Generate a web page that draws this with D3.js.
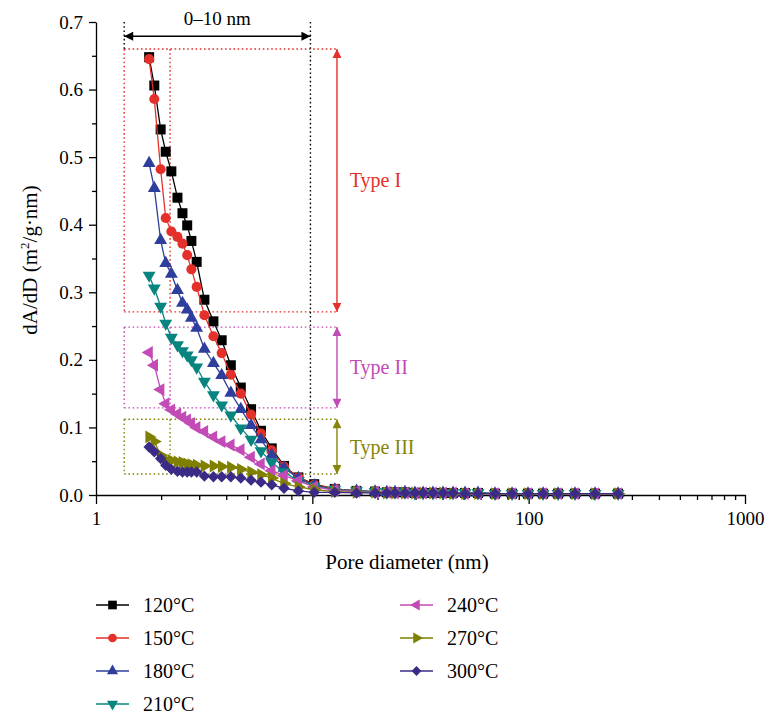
<!DOCTYPE html>
<html lang="en">
  <head>
    <meta charset="UTF-8" />
    <title>Pore size distribution</title>
    <script src="https://d3js.org/d3.v7.min.js"></script>
    <style>
      body {
        margin: 0;
        background: #fff;
      }
      svg {
        display: block;
        font-family: "Liberation Serif", "DejaVu Serif", serif;
      }
      .axis path,
      .axis line {
        stroke: #000;
        stroke-width: 1.3;
      }
      .axis text {
        font-size: 19px;
        font-family: "Liberation Serif", serif;
        fill: #000;
      }
    </style>
  </head>
  <body>
    <svg width="768" height="715"></svg>

    <script>
      // pore diameters (nm), shared by all samples
      const diameters = [
        1.76, 1.86, 1.99, 2.1, 2.23, 2.38, 2.51, 2.64, 2.76, 2.92, 3.17, 3.49,
        3.81, 4.2, 4.67, 5.21, 5.79, 6.49, 7.4, 8.62, 10.2, 12.7, 16.0, 19.5,
        22.1, 24.1, 26.8, 29.8, 32.5, 36.1, 40.2, 44.7, 50.8, 58.3, 69.9, 83.8,
        99.3, 116.6, 136.7, 163.8, 202.6, 259,
      ];

      const temps = ["120°C", "150°C", "180°C", "210°C", "240°C", "270°C", "300°C"];

      // dA/dD (m2/g.nm)
      const s120 = [
        0.648, 0.606, 0.541, 0.508, 0.479, 0.44, 0.417, 0.399, 0.376, 0.345,
        0.289, 0.257, 0.229, 0.192, 0.159, 0.127, 0.095, 0.069, 0.043, 0.026,
        0.016, 0.009, 0.006, 0.005, 0.004, 0.004, 0.004, 0.003, 0.003, 0.003,
        0.003, 0.003, 0.003, 0.003, 0.002, 0.002, 0.002, 0.002, 0.002, 0.002,
        0.002, 0.002,
      ];
      const s150 = [
        0.645, 0.586, 0.482, 0.41, 0.39, 0.382, 0.372, 0.355, 0.334, 0.308,
        0.266, 0.235, 0.21, 0.178, 0.15, 0.119, 0.091, 0.066, 0.042, 0.026,
        0.015, 0.009, 0.006, 0.005, 0.004, 0.004, 0.003, 0.003, 0.003, 0.003,
        0.003, 0.003, 0.003, 0.002, 0.002, 0.002, 0.002, 0.002, 0.002, 0.002,
        0.002, 0.002,
      ];
      const s180 = [
        0.491, 0.454, 0.377, 0.343, 0.327, 0.303, 0.284, 0.274, 0.262, 0.247,
        0.216, 0.195, 0.177, 0.151, 0.127, 0.103, 0.082, 0.059, 0.04, 0.025,
        0.014, 0.008, 0.006, 0.005, 0.004, 0.004, 0.004, 0.003, 0.003, 0.003,
        0.003, 0.003, 0.003, 0.003, 0.002, 0.002, 0.002, 0.002, 0.002, 0.002,
        0.002, 0.002,
      ];
      const s210 = [
        0.325, 0.306, 0.279, 0.254, 0.233, 0.222, 0.213, 0.207, 0.2, 0.189,
        0.168, 0.148, 0.133, 0.118, 0.099, 0.082, 0.065, 0.048, 0.034, 0.021,
        0.013, 0.008, 0.006, 0.005, 0.004, 0.004, 0.004, 0.003, 0.003, 0.003,
        0.003, 0.003, 0.003, 0.003, 0.002, 0.002, 0.002, 0.002, 0.002, 0.002,
        0.002, 0.002,
      ];
      const s240 = [
        0.211, 0.192, 0.156, 0.135, 0.126, 0.12, 0.115, 0.111, 0.106, 0.1,
        0.094, 0.086, 0.079, 0.074, 0.067, 0.056, 0.046, 0.036, 0.029, 0.021,
        0.012, 0.007, 0.005, 0.004, 0.004, 0.003, 0.003, 0.003, 0.003, 0.003,
        0.003, 0.003, 0.002, 0.002, 0.002, 0.002, 0.002, 0.002, 0.002, 0.002,
        0.002, 0.002,
      ];
      const s270 = [
        0.086, 0.079, 0.059, 0.052, 0.051, 0.049, 0.048, 0.046, 0.045, 0.044,
        0.043, 0.043, 0.042, 0.041, 0.038, 0.034, 0.03, 0.025, 0.017, 0.012,
        0.008, 0.005, 0.004, 0.004, 0.003, 0.003, 0.003, 0.003, 0.003, 0.003,
        0.003, 0.002, 0.002, 0.002, 0.002, 0.002, 0.002, 0.002, 0.002, 0.002,
        0.002, 0.002,
      ];
      const s300 = [
        0.071, 0.064, 0.054, 0.044, 0.038, 0.035, 0.034, 0.034, 0.034, 0.034,
        0.028, 0.027, 0.027, 0.027, 0.025, 0.022, 0.019, 0.015, 0.01, 0.006,
        0.004, 0.004, 0.003, 0.003, 0.003, 0.003, 0.003, 0.003, 0.003, 0.003,
        0.003, 0.003, 0.002, 0.002, 0.002, 0.002, 0.002, 0.002, 0.002, 0.002,
        0.002, 0.002,
      ];

      const xTicks = [1, 10, 100, 1000];
      const yTicks = [0, 0.1, 0.2, 0.3, 0.4, 0.5, 0.6, 0.7];

      // region bands (dA/dD): top, bottom
      const bandNames = ["Type I", "Type II", "Type III"];
      const bandTops = [0.66, 0.2485, 0.112];
      const bandBottoms = [0.271, 0.129, 0.031];

      const colors = ["#000000", "#e3302a", "#2e3e9c", "#08847f", "#c24bb6", "#7f7f00", "#3b2a86"];
      const bandColors = ["#e3302a", "#c24bb6", "#85850a"];

      const series = [s120, s150, s180, s210, s240, s270, s300].map((vals, i) => ({
        name: temps[i],
        color: colors[i],
        points: diameters.map((d, j) => ({ d: d, v: vals[j] })),
      }));

      const markers = [
        { type: d3.symbolSquare, size: 100, rot: 0 },
        { type: d3.symbolCircle, size: 80, rot: 0 },
        { type: d3.symbolTriangle, size: 72, rot: 0 },
        { type: d3.symbolTriangle, size: 72, rot: 180 },
        { type: d3.symbolTriangle, size: 72, rot: -90 },
        { type: d3.symbolTriangle, size: 72, rot: 90 },
        { type: d3.symbolSquare, size: 64, rot: 45 },
      ];

      const svg = d3.select("svg");

      const x = d3.scaleLog().domain([1, 1000]).range([96, 745]);
      const y = d3.scaleLinear().domain([0, 0.7]).range([495, 22]);

      // minor ticks
      const xMinor = [];
      [1, 10, 100].forEach((dec) => {
        for (let k = 2; k <= 9; k++) xMinor.push(dec * k);
      });
      const yMinor = d3.range(0.05, 0.7, 0.1);

      svg
        .append("g")
        .attr("class", "axis")
        .attr("transform", "translate(0,495)")
        .call(d3.axisBottom(x).tickValues(xMinor).tickSize(5).tickFormat(""))
        .call((g) => g.select(".domain").remove());
      svg
        .append("g")
        .attr("class", "axis")
        .attr("transform", "translate(0,495)")
        .call(
          d3.axisBottom(x).tickValues(xTicks).tickSize(9).tickSizeOuter(0).tickPadding(8).tickFormat(d3.format("d"))
        );

      svg
        .append("g")
        .attr("class", "axis")
        .attr("transform", "translate(96,0)")
        .call(d3.axisLeft(y).tickValues(yMinor).tickSize(4).tickFormat(""))
        .call((g) => g.select(".domain").remove());
      svg
        .append("g")
        .attr("class", "axis")
        .attr("transform", "translate(96,0)")
        .call(
          d3.axisLeft(y).tickValues(yTicks).tickSize(7).tickSizeOuter(0).tickPadding(6).tickFormat(d3.format(".1f"))
        );

      // axis titles
      svg
        .append("text")
        .attr("x", 407)
        .attr("y", 569)
        .attr("text-anchor", "middle")
        .attr("font-size", 21)
        .text("Pore diameter (nm)");

      const yTitle = svg
        .append("text")
        .attr("transform", "translate(37,260) rotate(-90)")
        .attr("text-anchor", "middle")
        .attr("font-size", 21);
      yTitle.append("tspan").text("dA/dD (m");
      yTitle.append("tspan").attr("font-size", 13).attr("dy", -8).text("2");
      yTitle.append("tspan").attr("dy", 8).text("/g·nm)");

      // annotations
      const defs = svg.append("defs");
      function arrowHead(id, color) {
        defs
          .append("marker")
          .attr("id", id)
          .attr("viewBox", "0 0 10 10")
          .attr("refX", 10)
          .attr("refY", 5)
          .attr("markerWidth", 14)
          .attr("markerHeight", 9)
          .attr("markerUnits", "userSpaceOnUse")
          .attr("orient", "auto-start-reverse")
          .append("path")
          .attr("d", "M0,0 L10,5 L0,10 Z")
          .attr("fill", color);
      }
      arrowHead("ah-black", "#000");
      bandColors.forEach((c, i) => arrowHead("ah-" + i, c));

      const xLeft = 1.35,
        xInner = 2.2,
        xTen = 9.8,
        xArrow = 13.0,
        xLabel = 14.9;

      const ann = svg.append("g").attr("fill", "none");
      const dots = "1.6,2.6";

      bandNames.forEach((name, i) => {
        const c = bandColors[i];
        const t = y(bandTops[i]),
          b = y(bandBottoms[i]);
        [t, b].forEach((yy) =>
          ann
            .append("line")
            .attr("x1", x(xLeft))
            .attr("x2", x(xArrow))
            .attr("y1", yy)
            .attr("y2", yy)
            .attr("stroke", c)
            .attr("stroke-width", 1.4)
            .attr("stroke-dasharray", dots)
        );
        [xLeft, xInner].forEach((xx) =>
          ann
            .append("line")
            .attr("x1", x(xx))
            .attr("x2", x(xx))
            .attr("y1", t)
            .attr("y2", b)
            .attr("stroke", c)
            .attr("stroke-width", 1.4)
            .attr("stroke-dasharray", dots)
        );
        ann
          .append("line")
          .attr("x1", x(xArrow))
          .attr("x2", x(xArrow))
          .attr("y1", t)
          .attr("y2", b)
          .attr("stroke", c)
          .attr("stroke-width", 1.4)
          .attr("marker-start", "url(#ah-" + i + ")")
          .attr("marker-end", "url(#ah-" + i + ")");
        svg
          .append("text")
          .attr("x", x(xLabel))
          .attr("y", (t + b) / 2 + 7)
          .attr("fill", c)
          .attr("font-size", 20)
          .text(name);
      });

      // 0-10 nm range marker
      ann
        .append("line")
        .attr("x1", x(xLeft))
        .attr("x2", x(xLeft))
        .attr("y1", y(0.7))
        .attr("y2", y(0.66))
        .attr("stroke", "#000")
        .attr("stroke-width", 1.4)
        .attr("stroke-dasharray", dots);
      ann
        .append("line")
        .attr("x1", x(xTen))
        .attr("x2", x(xTen))
        .attr("y1", y(0.7))
        .attr("y2", y(0.026))
        .attr("stroke", "#000")
        .attr("stroke-width", 1.4)
        .attr("stroke-dasharray", dots);
      ann
        .append("line")
        .attr("x1", x(xLeft))
        .attr("x2", x(xTen))
        .attr("y1", y(0.679))
        .attr("y2", y(0.679))
        .attr("stroke", "#000")
        .attr("stroke-width", 1.4)
        .attr("marker-start", "url(#ah-black)")
        .attr("marker-end", "url(#ah-black)");
      svg
        .append("text")
        .attr("x", (x(xLeft) + x(xTen)) / 2)
        .attr("y", 25)
        .attr("text-anchor", "middle")
        .attr("font-size", 19)
        .text("0–10 nm");

      // series
      const line = d3
        .line()
        .x((p) => x(p.d))
        .y((p) => y(p.v));

      const symbolPath = (m) => d3.symbol().type(m.type).size(m.size)();

      series.forEach((s, i) => {
        const g = svg.append("g");
        g.append("path")
          .attr("d", line(s.points))
          .attr("fill", "none")
          .attr("stroke", s.color)
          .attr("stroke-width", 1.3);
        g.selectAll("path.pt")
          .data(s.points)
          .enter()
          .append("path")
          .attr("class", "pt")
          .attr("d", symbolPath(markers[i]))
          .attr("transform", (p) => `translate(${x(p.d)},${y(p.v)}) rotate(${markers[i].rot})`)
          .attr("fill", s.color);
      });

      // legend
      const legend = svg.append("g");
      series.forEach((s, i) => {
        const col = i < 4 ? 0 : 1;
        const row = i < 4 ? i : i - 4;
        const lx = col === 0 ? 96 : 400;
        const ly = 605 + row * 33;
        const g = legend.append("g").attr("transform", `translate(${lx},${ly})`);
        g.append("line")
          .attr("x1", 0)
          .attr("x2", 33)
          .attr("stroke", s.color)
          .attr("stroke-width", 1.3);
        g.append("path")
          .attr("d", d3.symbol().type(markers[i].type).size(markers[i].size * 0.75)())
          .attr("transform", `translate(16.5,0) rotate(${markers[i].rot})`)
          .attr("fill", s.color);
        g.append("text")
          .attr("x", 47)
          .attr("y", 7)
          .attr("font-size", 20)
          .text(s.name);
      });
    </script>
  </body>
</html>
